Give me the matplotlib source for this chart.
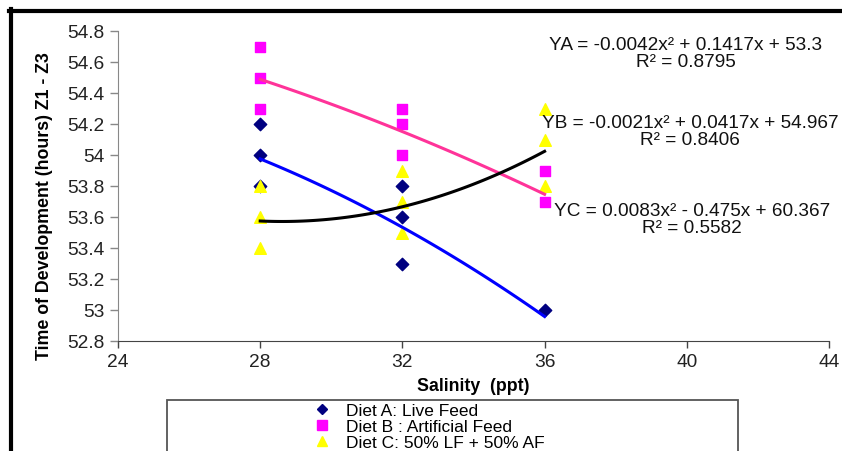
import numpy as np
import matplotlib
matplotlib.use("Agg")
import matplotlib.pyplot as plt
from matplotlib.lines import Line2D
from matplotlib.patches import Rectangle
from matplotlib.ticker import MultipleLocator, FuncFormatter

plt.rcParams['font.family'] = ['Liberation Sans', 'DejaVu Sans']

# --- data ---
diet_a_x = [28, 28, 28, 32, 32, 32, 36]
diet_a_y = [54.2, 54.0, 53.8, 53.8, 53.6, 53.3, 53.0]
diet_b_x = [28, 28, 28, 32, 32, 32, 36, 36]
diet_b_y = [54.7, 54.5, 54.3, 54.3, 54.2, 54.0, 53.9, 53.7]
diet_c_x = [28, 28, 28, 32, 32, 32, 36, 36, 36]
diet_c_y = [53.8, 53.6, 53.4, 53.9, 53.7, 53.5, 54.3, 54.1, 53.8]

# quadratic trend lines (from the printed equations)
coef_a = [-0.0042, 0.1417, 53.3]
coef_b = [-0.0021, 0.0417, 54.967]
coef_c = [0.0083, -0.475, 60.367]
trend_range = [28, 36]

eq_texts = ["YA = -0.0042x² + 0.1417x + 53.3\nR² = 0.8795",
            "YB = -0.0021x² + 0.0417x + 54.967\nR² = 0.8406",
            "YC = 0.0083x² - 0.475x + 60.367\nR² = 0.5582"]
labels = ["Diet A: Live Feed", "Diet B : Artificial Feed", "Diet C: 50% LF + 50% AF"]

W, H = 842, 452
fig = plt.figure(figsize=(W / 100, H / 100), dpi=100)
ax = fig.add_axes([118 / W, 1 - 342 / H, (829 - 118) / W, (342 - 32) / H])

# markers
ax.scatter(diet_a_x, diet_a_y, marker='D', s=40, color='#000080', zorder=3)
ax.scatter(diet_b_x, diet_b_y, marker='s', s=60, color='#FF00FF', zorder=3)
ax.scatter(diet_c_x, diet_c_y, marker='^', s=70, color='#FFFF00', zorder=3)

# trend lines
xs = np.linspace(trend_range[0], trend_range[1], 100)
ax.plot(xs, np.polyval(coef_a, xs), color='#0000FF', lw=2.2, zorder=4)
ax.plot(xs, np.polyval(coef_b, xs), color='#FF3399', lw=2.2, zorder=4)
ax.plot(xs, np.polyval(coef_c, xs), color='black', lw=2.2, zorder=4)

ax.set_xlim(24, 44)
ax.set_ylim(52.8, 54.8)
ax.xaxis.set_major_locator(MultipleLocator(4))
ax.yaxis.set_major_locator(MultipleLocator(0.2))
ax.yaxis.set_major_formatter(FuncFormatter(lambda v, p: '%g' % round(v, 1)))

for s in ['top', 'right']:
    ax.spines[s].set_visible(False)
ax.spines['left'].set_color('#888888')
ax.spines['bottom'].set_color('#444444')
ax.tick_params(axis='y', direction='out', length=6, width=1, colors='#888888',
               labelcolor='#222222', labelsize=13.8, pad=4)
ax.tick_params(axis='x', direction='out', length=5, width=1, colors='#444444',
               labelcolor='#222222', labelsize=13.8, pad=4)

ax.set_ylabel("Time of Development (hours) Z1 - Z3", fontsize=12.8, fontweight='bold')
ax.yaxis.set_label_coords(-0.091, 0.44)
ax.set_xlabel("Salinity  (ppt)", fontsize=12.8, fontweight='bold', labelpad=5)

# equation annotations
eq_pos = [(686, 54), (690, 132), (692, 220)]
for (px, py), t in zip(eq_pos, eq_texts):
    fig.text(px / W, 1 - py / H, t, ha='center', va='center', fontsize=13.7,
             linespacing=0.95, color='#111111')

# legend box (runs off the bottom of the figure)
fig.add_artist(Rectangle((167 / W, -0.1), (738 - 167) / W, 0.1 + 1 - 401 / H,
                         transform=fig.transFigure, fill=False,
                         edgecolor='#555555', lw=1.3))
handles = [Line2D([], [], marker='D', ls='none', color='#000080', ms=5.5),
           Line2D([], [], marker='s', ls='none', color='#FF00FF', ms=7.5),
           Line2D([], [], marker='^', ls='none', color='#FFFF00', ms=7.5)]
fig.legend(handles, labels, loc='upper left', bbox_to_anchor=(301 / W, 1 - 395 / H),
           frameon=False, fontsize=12.5, labelspacing=0.06, handletextpad=0.7,
           borderpad=0, handlelength=1.4)

# outer frame lines (left and top)
fig.add_artist(Line2D([10.5 / W, 10.5 / W], [0, 1 - 10 / H], color='black', lw=3,
                      transform=fig.transFigure))
fig.add_artist(Line2D([9 / W, 1], [1 - 11.5 / H, 1 - 11.5 / H], color='black', lw=3,
                      transform=fig.transFigure))

fig.savefig("out.png", dpi=100)
